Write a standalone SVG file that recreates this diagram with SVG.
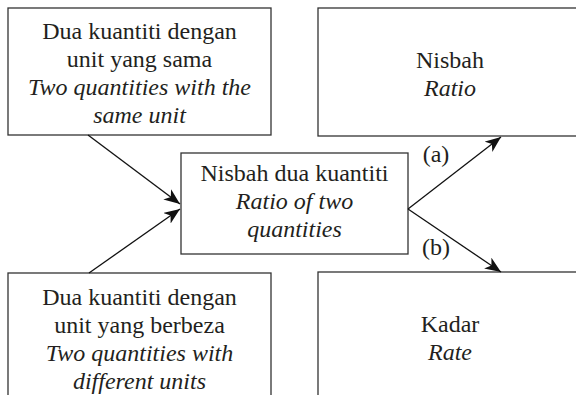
<svg xmlns="http://www.w3.org/2000/svg" width="576" height="395" viewBox="0 0 576 395">
<defs>
<style>
.box{fill:#fff;stroke:#333;stroke-width:1.3}
text{font-family:"Liberation Serif","Times New Roman",serif;font-size:24px;fill:#231f20;text-anchor:middle}
.it{font-style:italic}
.conn line{stroke:#111;stroke-width:1.3}
</style>
<marker id="ah" markerUnits="userSpaceOnUse" markerWidth="17" markerHeight="13" refX="16" refY="6.5" orient="auto">
<path d="M0,0 L16,6.5 L0,13 L4.5,6.5 Z" fill="#111"/>
</marker>
</defs>
<rect width="576" height="395" fill="#fff"/>
<g id="same-unit">
<rect class="box" x="8" y="8" width="263" height="127"/>
<text x="139.5" y="39">Dua kuantiti dengan</text>
<text x="139.5" y="67">unit yang sama</text>
<text class="it" x="139.5" y="95">Two quantities with the</text>
<text class="it" x="139.5" y="123">same unit</text>
</g>
<g id="ratio">
<rect class="box" x="318" y="8" width="264" height="128"/>
<text x="450" y="68">Nisbah</text>
<text class="it" x="450" y="96">Ratio</text>
</g>
<g id="center">
<rect class="box" x="181" y="153" width="227" height="101"/>
<text x="294.5" y="181">Nisbah dua kuantiti</text>
<text class="it" x="294.5" y="209">Ratio of two</text>
<text class="it" x="294.5" y="237">quantities</text>
</g>
<g id="different-units">
<rect class="box" x="8" y="273" width="263" height="130"/>
<text x="139.5" y="305">Dua kuantiti dengan</text>
<text x="139.5" y="333">unit yang berbeza</text>
<text class="it" x="139.5" y="361">Two quantities with</text>
<text class="it" x="139.5" y="389">different units</text>
</g>
<g id="rate">
<rect class="box" x="318" y="272" width="264" height="130"/>
<text x="450" y="332">Kadar</text>
<text class="it" x="450" y="360">Rate</text>
</g>
<g class="conn" id="connectors">
<line x1="88" y1="135" x2="180" y2="204" marker-end="url(#ah)"/>
<line x1="89" y1="273" x2="180" y2="209" marker-end="url(#ah)"/>
<line x1="408" y1="209" x2="501" y2="137" marker-end="url(#ah)"/>
<line x1="408" y1="209" x2="501" y2="272" marker-end="url(#ah)"/>
<text x="436" y="162">(a)</text>
<text x="436" y="255">(b)</text>
</g>
</svg>
